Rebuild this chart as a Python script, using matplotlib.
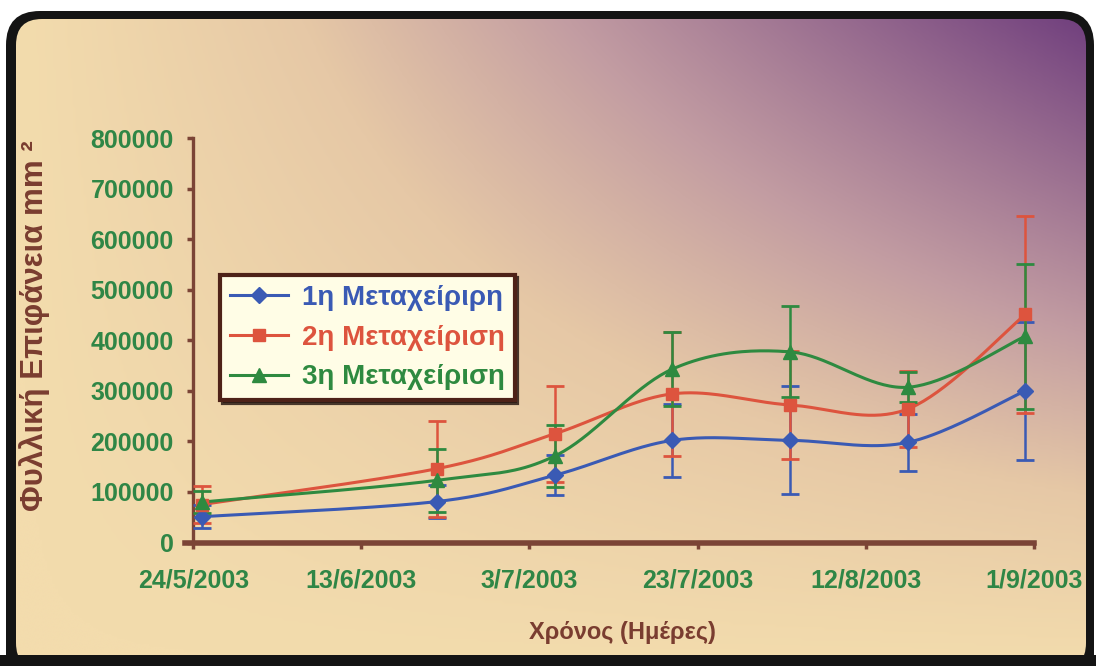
"""
Leaf area vs time for three treatments, recreated from a scanned chart.
"""
import numpy as np
import matplotlib
matplotlib.use("Agg")
import matplotlib.pyplot as plt
import matplotlib.dates as mdates
from matplotlib.patches import FancyBboxPatch, Rectangle
from matplotlib.lines import Line2D
from matplotlib.colors import LinearSegmentedColormap

# ── Data ───────────────────────────────────────────────────────────────────────
dates = ["2003-05-25", "2003-06-22", "2003-07-06", "2003-07-20",
         "2003-08-03", "2003-08-17", "2003-08-31"]

t1_mean = [51000, 81000, 133000, 202000, 202000, 198000, 300000]
t1_err  = [23000, 32000, 40000, 72000, 107000, 57000, 137000]
t2_mean = [75000, 146000, 215000, 294000, 272000, 264000, 451000]
t2_err  = [37000, 95000, 95000, 122000, 106000, 75000, 195000]
t3_mean = [80000, 123000, 171000, 343000, 377000, 307000, 408000]
t3_err  = [22000, 62000, 62000, 74000, 90000, 30000, 143000]

labels = ["1η Μεταχείριρη", "2η Μεταχείριση", "3η Μεταχείριση"]

xtick_dates  = ["2003-05-24", "2003-06-13", "2003-07-03", "2003-07-23",
                "2003-08-12", "2003-09-01"]
xtick_labels = ["24/5/2003", "13/6/2003", "3/7/2003", "23/7/2003",
                "12/8/2003", "1/9/2003"]
yticks = [0, 100000, 200000, 300000, 400000, 500000, 600000, 700000, 800000]

# ── Style ──────────────────────────────────────────────────────────────────────
W, H = 1096, 666
BLUE, RED, GREEN = "#3A5AB4", "#DD543E", "#2E8A40"
TICK_GREEN = "#2F8646"
BROWN = "#7A3D30"
SPINE = "#7B4436"
FAM = ["Liberation Sans", "DejaVu Sans"]


def fx(px):
    return px / W


def fy(py):
    return 1 - py / H


def smooth_curve(x, y, n=40):
    # Catmull-Rom through the points (same look as a spreadsheet "smoothed line")
    pts = np.column_stack([x, y]).astype(float)
    p = np.vstack([pts[0], pts, pts[-1]])
    t = np.linspace(0, 1, n)[:, None]
    segs = []
    for i in range(1, len(p) - 2):
        p0, p1, p2, p3 = p[i - 1], p[i], p[i + 1], p[i + 2]
        segs.append(0.5 * (2 * p1 + (-p0 + p2) * t
                           + (2 * p0 - 5 * p1 + 4 * p2 - p3) * t ** 2
                           + (-p0 + 3 * p1 - 3 * p2 + p3) * t ** 3))
    out = np.vstack(segs)
    return out[:, 0], out[:, 1]


fig = plt.figure(figsize=(W / 100, H / 100), dpi=100)
fig.patch.set_facecolor("white")

# ── Framed gradient background ─────────────────────────────────────────────────
bg = fig.add_axes([0, 0, 1, 1], zorder=0)
bg.set_xlim(0, W)
bg.set_ylim(H, 0)
bg.axis("off")

bg.add_patch(FancyBboxPatch((6, 11), 1088, 680, boxstyle="round,pad=0,rounding_size=34",
                            fc="#141414", ec="none"))
inner = FancyBboxPatch((16, 19), 1070, 650, boxstyle="round,pad=0,rounding_size=26",
                       fc="none", ec="none")
bg.add_patch(inner)

gx = np.linspace(0, 1, 400)
gy = np.linspace(1, 0, 250)
GX, GY = np.meshgrid(gx, gy)
grad = np.clip(GX * GY, 0, 1) ** 1.05
cmap = LinearSegmentedColormap.from_list(
    "bg", [(0.0, "#F3DCAD"), (0.25, "#E6C8A6"), (0.5, "#C29CA2"), (1.0, "#71407E")])
im = bg.imshow(grad, cmap=cmap, extent=(16, 1086, 669, 19), aspect="auto",
               interpolation="bicubic", zorder=1)
im.set_clip_path(inner)
bg.add_patch(Rectangle((0, 655), W, 20, fc="#141414", ec="none", zorder=2))

# ── Plot area ──────────────────────────────────────────────────────────────────
x0, x1, y0, y1 = 193.3, 1033.8, 542.5, 138
ax = fig.add_axes([fx(x0), fy(y0), fx(x1) - fx(x0), fy(y1) - fy(y0)], zorder=2)
ax.patch.set_alpha(0)

xd = mdates.datestr2num(dates)
series = [
    (t1_mean, t1_err, BLUE, "D", 8.5),
    (t2_mean, t2_err, RED, "s", 9.0),
    (t3_mean, t3_err, GREEN, "^", 10.0),
]
handles = []
for (m, e, c, mk, ms), lab in zip(series, labels):
    sx, sy = smooth_curve(xd, m)
    ax.plot(sx, sy, color=c, lw=2.2, zorder=3)
    ax.errorbar(xd, m, yerr=e, fmt="none", ecolor=c, elinewidth=1.8,
                capsize=6.5, capthick=2.0, zorder=3)
    ax.plot(xd, m, ls="none", marker=mk, ms=ms, color=c, mec=c, zorder=4)
    handles.append(Line2D([], [], color=c, lw=2.2, marker=mk, ms=ms, mec=c))

xt = mdates.datestr2num(xtick_dates)
ax.set_xlim(xt[0], xt[-1])
ax.set_ylim(0, 800000)
ax.set_xticks(xt)
ax.set_xticklabels(xtick_labels)
ax.set_yticks(yticks)
ax.set_yticklabels([str(v) for v in yticks])

for s in ("top", "right"):
    ax.spines[s].set_visible(False)
ax.spines["left"].set_color(SPINE)
ax.spines["left"].set_linewidth(2.4)
ax.spines["bottom"].set_color(SPINE)
ax.spines["bottom"].set_linewidth(4.0)
ax.spines["bottom"].set_bounds(xt[0] - 1.0, xt[-1])

ax.tick_params(axis="both", colors=SPINE, width=2.5, length=4, direction="out")
ax.tick_params(axis="x", pad=15)
ax.tick_params(axis="y", pad=10)
for lbl in ax.get_xticklabels() + ax.get_yticklabels():
    lbl.set_color(TICK_GREEN)
    lbl.set_fontsize(18)
    lbl.set_fontweight("bold")
    lbl.set_family(FAM)

# ── Axis titles ────────────────────────────────────────────────────────────────
fig.text(fx(35), fy(326), "Φυλλική Επιφάνεια mm ²", rotation=90, ha="center",
         va="center", color=BROWN, fontsize=22.5, fontweight="bold", family=FAM)
fig.text(fx(622), fy(632), "Χρόνος (Ημέρες)", ha="center", va="center",
         color=BROWN, fontsize=17, fontweight="bold", family=FAM)

# ── Legend ─────────────────────────────────────────────────────────────────────
leg = ax.legend(handles, labels, loc="upper left",
                bbox_to_anchor=((220 - x0) / (x1 - x0), (y0 - 275) / (y0 - y1)),
                borderaxespad=0, frameon=True, fancybox=False,
                prop={"family": FAM, "weight": "bold", "size": 20},
                handlelength=2.1, handletextpad=0.5, labelspacing=0.5,
                borderpad=0.35, shadow={"color": "#2A1A14", "alpha": 0.85})
leg.get_frame().set_facecolor("#FFFDE6")
leg.get_frame().set_edgecolor("#4E2218")
leg.get_frame().set_linewidth(3.0)
leg.get_frame().set_alpha(1)
for txt, (_, _, c, _, _) in zip(leg.get_texts(), series):
    txt.set_color(c)

fig.savefig("out.png", dpi=100)
